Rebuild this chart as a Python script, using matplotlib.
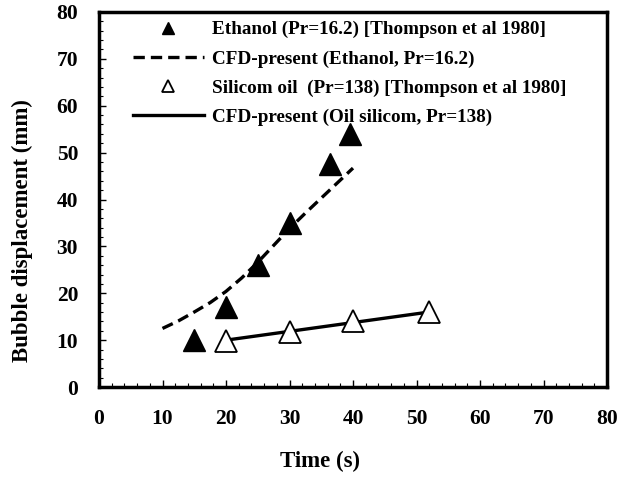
import matplotlib
matplotlib.use("Agg")
import matplotlib.pyplot as plt
from matplotlib.ticker import MultipleLocator

plt.rcParams['font.family'] = ['Liberation Serif', 'DejaVu Serif']
plt.rcParams['font.weight'] = 'bold'

# Data
eth_t = [15, 20, 25, 30, 36.4, 39.6]
eth_d = [10, 17, 26, 35, 47.5, 54]
cfd_eth_t = [10, 12.5, 15, 17.5, 20, 22.5, 25, 27.5, 30, 32.5, 35, 37.5, 40]
cfd_eth_d = [12.5, 14.1, 16, 18, 20.4, 23.3, 26.6, 30.2, 33.8, 37.1, 40.3, 43.5, 46.7]
oil_t = [20, 30, 40, 52]
oil_d = [9.8, 11.7, 14, 16]
cfd_oil_t = [20, 52]
cfd_oil_d = [10, 16]

labels = ["Ethanol (Pr=16.2) [Thompson et al 1980]",
          "CFD-present (Ethanol, Pr=16.2)",
          "Silicom oil  (Pr=138) [Thompson et al 1980]",
          "CFD-present (Oil silicom, Pr=138)"]

fig = plt.figure(figsize=(6.25, 4.79), dpi=100)
ax = fig.add_axes([0.1584, 0.192, 0.8128, 0.783])

ax.plot(eth_t, eth_d, linestyle='none', marker='^', markersize=15.5,
        color='black', label=labels[0], zorder=3)
ax.plot(cfd_eth_t, cfd_eth_d, linestyle=(0, (3.4, 1.8)), linewidth=2.4,
        color='black', label=labels[1], zorder=2)
ax.plot(oil_t, oil_d, linestyle='none', marker='^', markersize=15.5,
        markerfacecolor='white', markeredgecolor='black', markeredgewidth=1.3,
        label=labels[2], zorder=3)
ax.plot(cfd_oil_t, cfd_oil_d, linestyle='-', linewidth=2.4,
        color='black', label=labels[3], zorder=2)

ax.set_xlim(0, 80)
ax.set_ylim(0, 80)
ax.xaxis.set_major_locator(MultipleLocator(10))
ax.yaxis.set_major_locator(MultipleLocator(10))
ax.xaxis.set_minor_locator(MultipleLocator(2))
ax.yaxis.set_minor_locator(MultipleLocator(2))
ax.tick_params(axis='both', which='major', direction='in', length=5, width=1,
               labelsize=15.5, colors='black')
ax.tick_params(axis='both', which='minor', direction='in', length=3, width=0.8)
ax.tick_params(axis='x', which='major', pad=16)
ax.tick_params(axis='y', which='major', pad=15)
ax.tick_params(top=False, right=False, which='both')
for lab in ax.get_xticklabels() + ax.get_yticklabels():
    lab.set_fontweight('bold')

for s in ax.spines.values():
    s.set_linewidth(2.5)
    s.set_color('black')

ax.set_xlabel("Time (s)", fontsize=16.5, fontweight='bold')
ax.set_ylabel("Bubble displacement (mm)", fontsize=16.5, fontweight='bold')
ax.xaxis.set_label_coords(0.435, -0.17)
ax.yaxis.set_label_coords(-0.13, 0.416)

leg = ax.legend(loc='upper left', bbox_to_anchor=(0.067, 0.976), frameon=False,
                fontsize=13.75, handlelength=3.7, handletextpad=0.45,
                labelspacing=0.62, borderpad=0, borderaxespad=0, markerscale=0.55)

fig.savefig("out.png", dpi=100)
